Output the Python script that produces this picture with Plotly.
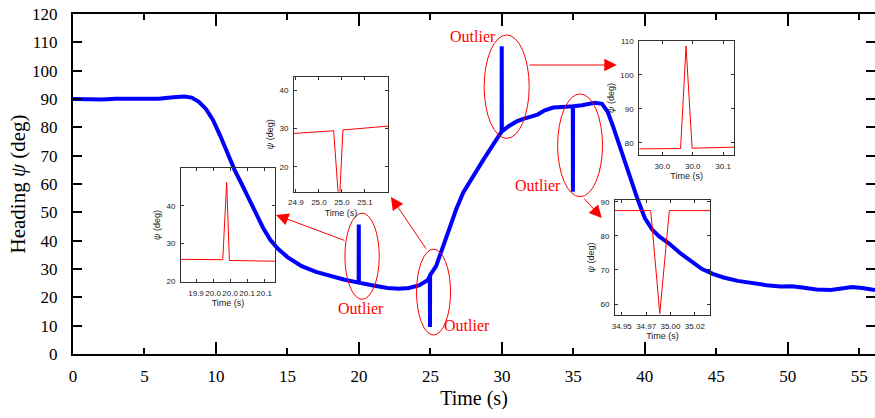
import plotly.graph_objects as go

# ---------------- data ----------------
time_s = [0, 1, 2, 3, 4, 5, 6, 7, 7.8, 8.3, 8.8, 9.3, 9.8, 10.3, 10.8, 11.3, 11.8,
          12.3, 12.8, 13.3, 13.8, 14.3, 15, 16, 17, 18, 19, 19.98, 19.99, 20.0,
          21, 22, 22.8, 23.5, 24.2, 24.8, 24.96, 24.97, 24.98, 25.4, 25.8, 26.3,
          26.8, 27.3, 28, 28.7, 29.4, 29.98, 29.99, 30.0, 30.5, 31, 31.5, 32,
          32.5, 33, 33.6, 34.2, 34.96, 34.97, 34.98, 35.6, 36, 36.5, 37, 37.4,
          37.8, 38.2, 38.6, 39, 39.5, 40, 40.5, 41, 41.7, 42.5, 43.2, 44, 44.8,
          45.5, 46.5, 47.5, 48.5, 49.5, 50.3, 51, 52, 53, 54, 54.5, 55.2, 56.1]
heading_deg = [90, 89.8, 89.8, 90.1, 90.2, 90.3, 90.1, 90.6, 90.9, 90.5, 89, 86.5,
               82.5, 77, 71, 65, 60, 55, 49.5, 44.5, 40.3, 37.3, 34.2, 31, 29,
               27.5, 26.2, 25.2, 45.7, 25.2, 24.2, 23.3, 23.0, 23.3, 24.2, 26,
               27.5, 9.5, 27.8, 31, 37, 44, 51, 57, 63, 68.5, 74, 78.5, 108.6,
               78.6, 80.5, 82, 83, 83.6, 84.5, 86, 87, 87.2, 87.4, 57.3, 87.4,
               87.8, 88.3, 88.7, 88.3, 85.5, 80, 74, 68, 61.5, 54.5, 48, 44, 41.5,
               39, 35.5, 33, 30, 28.2, 27, 25.8, 25, 24.3, 23.8, 23.9, 23.5, 22.8,
               22.6, 23.2, 23.6, 23.3, 22.6]

# inset 1 (outlier near 20 s)
in1_t = [19.856, 19.9785, 19.990, 19.998, 20.132]
in1_psi = [25.8, 25.7, 46.2, 25.5, 25.3]
in1_xticks = [19.90, 19.95, 20.00, 20.05, 20.10]
in1_xlabels = ["19.9", "20.0", "20.0", "20.1", "20.1"]
in1_yticks = [20, 30, 40]

# inset 2 (outlier near 25 s)
in2_t = [24.896, 24.982, 24.9939, 25.0022, 25.1]
in2_psi = [28.7, 29.4, 9.5, 29.6, 30.6]
in2_xticks = [24.90, 24.95, 25.00, 25.05]
in2_xlabels = ["24.9", "25.0", "25.0", "25.1"]
in2_yticks = [20, 30, 40]

# inset 3 (outlier near 30 s)
in3_t = [29.912, 29.980, 29.989, 29.999, 30.068]
in3_psi = [78.2, 78.3, 108.5, 78.4, 78.7]
in3_xticks = [29.95, 30.00, 30.05]
in3_xlabels = ["30.0", "30.0", "30.1"]
in3_yticks = [80, 90, 100, 110]

# inset 4 (outlier near 35 s)
in4_t = [34.943, 34.9797, 34.989, 34.9988, 35.0406]
in4_psi = [87.4, 87.4, 57.2, 87.4, 87.4]
in4_xticks = [34.95, 34.975, 35.00, 35.025]
in4_xlabels = ["34.95", "34.97", "35.00", "35.02"]
in4_yticks = [60, 70, 80, 90]

main_xticks = [0, 5, 10, 15, 20, 25, 30, 35, 40, 45, 50, 55]
main_xmajor = [10, 20, 30, 40, 50]
main_yticks = [0, 10, 20, 30, 40, 50, 60, 70, 80, 90, 100, 110, 120]
outlier_label = "Outlier"

# ---------------- figure ----------------
fig = go.Figure()

RED = "#ff0000"
inset_traces = [
    (in1_t, in1_psi, "x2", "y2"),
    (in2_t, in2_psi, "x3", "y3"),
    (in3_t, in3_psi, "x4", "y4"),
    (in4_t, in4_psi, "x5", "y5"),
]
for tx, ty, xa, ya in inset_traces:
    fig.add_trace(go.Scatter(x=tx, y=ty, xaxis=xa, yaxis=ya, mode="lines",
                             line=dict(color=RED, width=1), showlegend=False,
                             hoverinfo="skip"))

fig.add_trace(go.Scatter(x=time_s, y=heading_deg, xaxis="x6", yaxis="y",
                         mode="lines", line=dict(color="#0000ff", width=4),
                         showlegend=False))

SERIF = "Liberation Serif"
SANS = "Liberation Sans"
XR = [0, 56.1]

layout = dict(
    width=875, height=418,
    margin=dict(l=73, r=0, t=14, b=64, autoexpand=False),
    paper_bgcolor="white", plot_bgcolor="rgba(0,0,0,0)",
    showlegend=False,
    xaxis=dict(domain=[0, 1], range=XR, anchor="y", tickvals=main_xticks,
               ticks="inside", ticklen=6, tickwidth=2, tickcolor="black",
               showline=True, linewidth=2, linecolor="black", mirror="ticks",
               showgrid=False, zeroline=False, ticklabelstandoff=6,
               automargin=False, ticklabeloverflow="allow",
               tickfont=dict(family=SERIF, size=17, color="black"),
               title=dict(text="Time (s)", font=dict(family=SERIF, size=20, color="black"),
                          standoff=6)),
    xaxis6=dict(overlaying="x", range=XR, anchor="y", side="bottom",
                tickvals=main_xmajor, ticks="inside", ticklen=12, tickwidth=2,
                tickcolor="black", showticklabels=False, showline=False,
                mirror="ticks", showgrid=False, zeroline=False, automargin=False),
    yaxis=dict(domain=[0, 1], range=[0, 120], anchor="x", tickvals=main_yticks,
               ticks="inside", ticklen=9, tickwidth=2, tickcolor="black",
               showline=True, linewidth=2, linecolor="black", mirror="ticks",
               showgrid=False, zeroline=False, ticklabelstandoff=10,
               automargin=False, ticklabeloverflow="allow",
               tickfont=dict(family=SERIF, size=17, color="black"),
               title=dict(text="Heading <i>ψ</i> (deg)",
                          font=dict(family=SERIF, size=21, color="black"),
                          standoff=1)),
)

inset_specs = [
    (2, [0.1347, 0.2519], [0.2118, 0.5471], [19.856, 20.132], [19.8, 50.0],
     in1_xticks, in1_xlabels, in1_yticks),
    (3, [0.2756, 0.3928], [0.4774, 0.8156], [24.896, 25.1], [13.5, 43.5],
     in2_xticks, in2_xlabels, in2_yticks),
    (4, [0.7061, 0.8242], [0.5853, 0.9206], [29.912, 30.068], [76.4, 110.0],
     in3_xticks, in3_xlabels, in3_yticks),
    (5, [0.6758, 0.7943], [0.1147, 0.4529], [34.943, 35.0406], [56.8, 90.5],
     in4_xticks, in4_xlabels, in4_yticks),
]
FRAME = "#333333"
TXT = "#222222"
for idx, xd, yd, xr, yr, xt, xl, yt in inset_specs:
    layout[f"xaxis{idx}"] = dict(
        domain=xd, range=xr, anchor=f"y{idx}", tickvals=xt, ticktext=xl,
        tickangle=0, automargin=False,
        ticks="inside", ticklen=3, tickwidth=1, tickcolor=FRAME,
        showline=True, linewidth=1, linecolor=FRAME, mirror="ticks",
        showgrid=False, zeroline=False, ticklabelstandoff=3,
        tickfont=dict(family=SANS, size=8, color=TXT),
        title=dict(text="Time (s)", font=dict(family=SANS, size=9, color=TXT),
                   standoff=3))
    layout[f"yaxis{idx}"] = dict(
        domain=yd, range=yr, anchor=f"x{idx}", tickvals=yt, automargin=False,
        ticks="inside", ticklen=3, tickwidth=1, tickcolor=FRAME,
        showline=True, linewidth=1, linecolor=FRAME, mirror="ticks",
        showgrid=False, zeroline=False, ticklabelstandoff=3,
        tickfont=dict(family=SANS, size=8, color=TXT),
        title=dict(text="<i>ψ</i> (deg)", font=dict(family=SANS, size=9, color=TXT),
                   standoff=4))

fig.update_layout(**layout)

ellipses = [
    (19.02, 21.42, 19.3, 49.7),
    (24.03, 26.41, 6.7, 37.0),
    (28.76, 31.91, 76.1, 112.6),
    (33.90, 37.04, 55.5, 91.8),
]
for x0, x1, y0, y1 in ellipses:
    fig.add_shape(type="circle", xref="x", yref="y", x0=x0, x1=x1, y0=y0, y1=y1,
                  line=dict(color=RED, width=1), layer="above")

label_pos = [(20.14, 16.2), (27.53, 9.9), (27.97, 112.0), (32.52, 59.3)]
for lx, ly in label_pos:
    fig.add_annotation(x=lx, y=ly, xref="x", yref="y", text=outlier_label,
                       showarrow=False, font=dict(family=SERIF, size=16, color=RED))

arrows = [
    ((19.09, 39.9), (14.2, 49.1)),
    ((24.76, 36.7), (22.24, 55.4)),
    ((31.82, 102.0), (38.04, 102.0)),
    ((35.66, 55.4), (36.99, 48.0)),
]
for (tx, ty), (hx, hy) in arrows:
    fig.add_annotation(x=hx, y=hy, ax=tx, ay=ty, xref="x", yref="y",
                       axref="x", ayref="y", text="", showarrow=True,
                       arrowhead=2, arrowsize=2.5, arrowwidth=1, arrowcolor=RED)

fig.write_html("out.html", config={"displayModeBar": False},
               post_script="document.body.style.margin='0';"
                           "document.body.style.overflow='hidden';")
